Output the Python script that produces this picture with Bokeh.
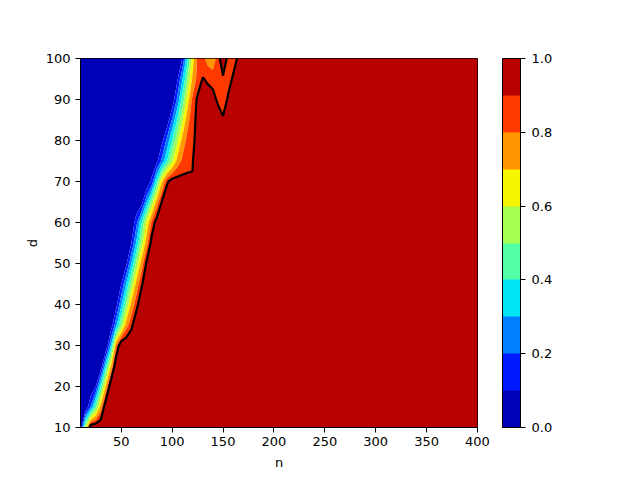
import numpy as np
from bokeh.plotting import figure
from bokeh.models import ColorBar, LinearColorMapper, FixedTicker, Range1d, PrintfTickFormatter
from bokeh.embed import file_html
from bokeh.resources import INLINE

# grid of sample sizes n and dimensions d
n_values = [10, 15, 20, 25, 30, 35, 40, 45, 50, 55, 60, 65, 70, 75, 80, 85, 90,
            95, 100, 105, 110, 115, 120, 125, 130, 135, 140, 145, 150, 155, 160,
            165, 170, 400]
d_values = [10, 15, 20, 25, 30, 35, 40, 45, 50, 55, 60, 65, 70, 75, 80, 85, 90, 95, 100]

# success rate per row (d), starting at n=10; the rest of each row reads 1.0
row_d10 = [0, 0.58]
row_d15 = [0, 0, 0.21, 0.47, 0.74]
row_d20 = [0, 0, 0, 0.10, 0.41, 0.72]
row_d25 = [0, 0, 0, 0, 0.03, 0.37, 0.70]
row_d30 = [0, 0, 0, 0, 0, 0, 0.31, 0.78]
row_d35 = [0, 0, 0, 0, 0, 0, 0.03, 0.27, 0.51, 0.75, 0.87]
row_d40 = [0, 0, 0, 0, 0, 0, 0, 0.06, 0.28, 0.51, 0.73, 0.86]
row_d45 = [0] * 8 + [0.10, 0.31, 0.52, 0.74, 0.88]
row_d50 = [0] * 9 + [0.08, 0.30, 0.53, 0.75, 0.92]
row_d55 = [0] * 10 + [0.10, 0.32, 0.54, 0.76, 0.94]
row_d60 = [0] * 11 + [0.17, 0.39, 0.62, 0.83, 0.95]
row_d65 = [0] * 12 + [0.05, 0.29, 0.52, 0.75, 0.91]
row_d70 = [0] * 14 + [0.13, 0.41, 0.69, 0.88, 0.95, 0.95, 0.94, 0.93, 0.91]
row_d75 = [0] * 15 + [0.07, 0.23, 0.40, 0.57, 0.73, 0.82, 0.86, 0.89]
row_d80 = [0] * 16 + [0.07, 0.23, 0.40, 0.57, 0.73, 0.83, 0.88, 0.93]
row_d85 = [0] * 17 + [0.03, 0.21, 0.40, 0.58, 0.76, 0.86, 0.93, 0.97, 0.97, 0.95,
                      0.93, 0.91, 0.95]
row_d90 = [0] * 18 + [0.02, 0.22, 0.43, 0.64, 0.82, 0.92, 0.95, 0.93, 0.92, 0.89,
                      0.86, 0.91, 0.97]
row_d95 = [0] * 19 + [0.08, 0.29, 0.50, 0.72, 0.83, 0.905, 0.89, 0.88, 0.86, 0.89,
                      0.87, 0.91, 0.97]
row_d100 = [0] * 20 + [0.10, 0.37, 0.64, 0.82, 0.84, 0.75, 0.70, 0.87, 0.95, 0.88,
                       0.87, 0.91]

rows = [row_d10, row_d15, row_d20, row_d25, row_d30, row_d35, row_d40, row_d45,
        row_d50, row_d55, row_d60, row_d65, row_d70, row_d75, row_d80, row_d85,
        row_d90, row_d95, row_d100]

fill_levels = [0.0, 0.1, 0.2, 0.3, 0.4, 0.5, 0.6, 0.7, 0.8, 0.9, 1.0]
line_level = [0.9]
cbar_ticks = [0.0, 0.2, 0.4, 0.6, 0.8, 1.0]
x_ticks = [50, 100, 150, 200, 250, 300, 350, 400]
y_ticks = [10, 20, 30, 40, 50, 60, 70, 80, 90, 100]

jet10 = ["#0000b9", "#001aff", "#0080ff", "#00e6f7", "#52ffa4",
         "#a4ff52", "#f7f500", "#ff9700", "#ff3900", "#b90000"]

Z = np.array([r + [1.0] * (len(n_values) - len(r)) for r in rows], dtype=float)
X = np.array(n_values, dtype=float)
Y = np.array(d_values, dtype=float)

FONT = "DejaVu Sans"

p = figure(width=600, height=472, output_backend="svg", toolbar_location=None,
           x_range=Range1d(10, 400), y_range=Range1d(10, 100),
           min_border_left=80, min_border_top=58, min_border_bottom=45,
           min_border_right=123)

levels_draw = list(fill_levels)
levels_draw[0] = -0.001
levels_draw[-1] = 1.001
p.contour(X, Y, Z, levels=levels_draw, fill_color=jet10, line_color=None)
p.contour(X, Y, Z, levels=line_level, line_color="black", line_width=2.2)

p.grid.visible = False
p.outline_line_color = "black"
p.outline_line_width = 1
p.background_fill_color = "white"

for ax in (p.xaxis[0], p.yaxis[0]):
    ax.axis_line_color = "black"
    ax.major_tick_line_color = "black"
    ax.major_tick_out = 5
    ax.major_tick_in = 0
    ax.minor_tick_line_color = None
    ax.major_label_text_font = FONT
    ax.major_label_text_font_size = "13px"
    ax.major_label_text_color = "black"
    ax.axis_label_text_font = FONT
    ax.axis_label_text_font_size = "13px"
    ax.axis_label_text_font_style = "normal"
    ax.axis_label_text_color = "black"
    ax.major_label_standoff = 4

p.yaxis[0].major_label_standoff = 5
p.xaxis[0].ticker = FixedTicker(ticks=x_ticks)
p.yaxis[0].ticker = FixedTicker(ticks=y_ticks)
p.xaxis[0].axis_label = "n"
p.yaxis[0].axis_label = "d"
p.xaxis[0].axis_label_standoff = 6
p.yaxis[0].axis_label_standoff = 3

mapper = LinearColorMapper(palette=jet10, low=0.0, high=1.0)
cbar = ColorBar(color_mapper=mapper, ticker=FixedTicker(ticks=cbar_ticks),
                formatter=PrintfTickFormatter(format="%.1f"),
                width=18, height=369, location=(25, 0),
                margin=0, padding=0,
                bar_line_color="black", bar_line_width=1,
                major_tick_line_color="black", major_tick_in=0, major_tick_out=5,
                minor_tick_line_color=None,
                major_label_text_font=FONT, major_label_text_font_size="13px",
                major_label_text_color="black", label_standoff=6,
                background_fill_alpha=0, border_line_color=None)
p.add_layout(cbar, "right")

open("out.html", "w").write(file_html(p, INLINE))
